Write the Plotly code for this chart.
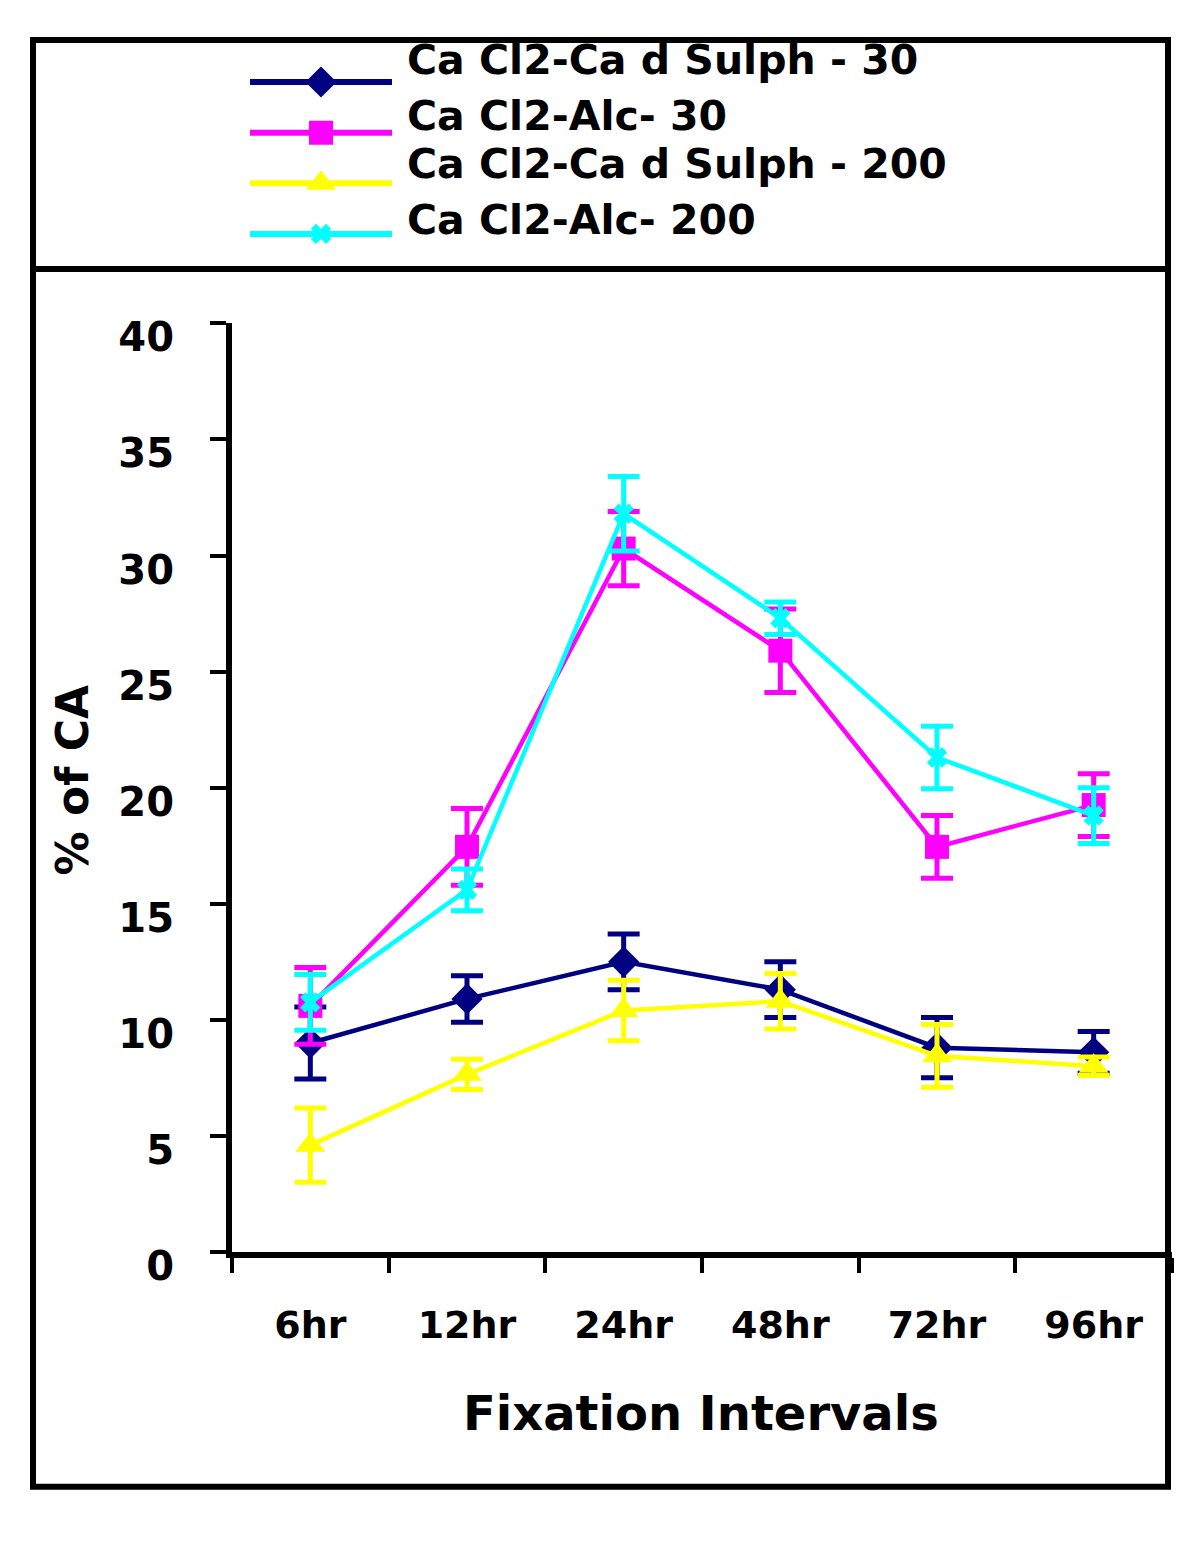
import plotly.graph_objects as go

categories = ["6hr", "12hr", "24hr", "48hr", "72hr", "96hr"]
y_ticks = [0, 5, 10, 15, 20, 25, 30, 35, 40]

series_names = ["Ca Cl2-Ca d Sulph - 30", "Ca Cl2-Alc- 30", "Ca Cl2-Ca d Sulph - 200", "Ca Cl2-Alc- 200"]
sulph_30 = [9.0, 10.9, 12.5, 11.3, 8.8, 8.6]
sulph_30_err = [1.55, 1.0, 1.2, 1.2, 1.3, 0.9]
alc_30 = [10.6, 17.45, 30.3, 25.9, 17.45, 19.25]
alc_30_err = [1.65, 1.65, 1.6, 1.8, 1.35, 1.35]
sulph_200 = [4.6, 7.65, 10.4, 10.8, 8.45, 8.0]
sulph_200_err = [1.6, 0.65, 1.3, 1.2, 1.35, 0.4]
alc_200 = [10.75, 15.6, 31.8, 27.3, 21.3, 18.8]
alc_200_err = [1.2, 0.9, 1.6, 0.7, 1.35, 1.2]

values = [sulph_30, alc_30, sulph_200, alc_200]
errors = [sulph_30_err, alc_30_err, sulph_200_err, alc_200_err]
colors = ["#000080", "#FF00FF", "#FFFF00", "#00FFFF"]
symbols = ["diamond", "square", "triangle-up", "x"]
sizes = [24, 24, 26, 18]
legend_text_rows = [53, 110, 160, 217]   # vertical centres of the legend labels (page px)

W = 1199
H = 1549

def px(x):
    return x / W
def py(y):
    return (H - y) / H

FONT = "DejaVu Sans"
fig = go.Figure()

for name, v, e, c, s, sz in zip(series_names, values, errors, colors, symbols, sizes):
    fig.add_trace(go.Scatter(
        x=categories, y=v, mode="lines+markers", name=name,
        line=dict(color=c, width=4.5),
        marker=dict(color=c, symbol=s, size=sz, opacity=1, line=dict(width=0, color=c)),
        error_y=dict(type="data", array=e, visible=True, color=c, thickness=5, width=16),
        xaxis="x", yaxis="y", showlegend=False, cliponaxis=False,
    ))

# legend samples (drawn on a hidden helper axis)
for i, (name, c, s, sz) in enumerate(zip(series_names, colors, symbols, sizes)):
    fig.add_trace(go.Scatter(
        x=[0, 1], y=[i, i], mode="lines",
        line=dict(color=c, width=6),
        xaxis="x2", yaxis="y2", showlegend=False, hoverinfo="skip",
    ))
    fig.add_trace(go.Scatter(
        x=[0.5], y=[i], mode="markers",
        marker=dict(color=c, symbol=s, size=sz, opacity=1, line=dict(width=0)),
        xaxis="x2", yaxis="y2", showlegend=False, hoverinfo="skip",
    ))
    fig.add_annotation(
        x=px(405), xref="paper", y=py(legend_text_rows[i]), yref="paper", text=name,
        showarrow=False, xanchor="left", yanchor="middle",
        font=dict(family=FONT, size=41, color="black", weight="bold"),
    )

fig.update_layout(
    width=W, height=H,
    margin=dict(l=0, r=0, t=0, b=0),
    paper_bgcolor="white", plot_bgcolor="white",
    showlegend=False,
    xaxis=dict(
        domain=[px(232), px(1172)], type="category", range=[-0.5, 5.5],
        tickson="boundaries", ticks="outside", ticklen=15, tickwidth=4, tickcolor="black",
        showline=True, linecolor="black", linewidth=6, showgrid=False, zeroline=False,
        tickfont=dict(family=FONT, size=38, color="black", weight="bold"),
        ticklabelstandoff=34, anchor="y",
    ),
    yaxis=dict(
        domain=[py(1281), py(324)], range=[0, 40], tickvals=y_ticks,
        ticks="outside", ticklen=16, tickwidth=4, tickcolor="black",
        showline=True, linecolor="black", linewidth=6, showgrid=False, zeroline=False,
        tickfont=dict(family=FONT, size=40, color="black", weight="bold"),
        ticklabelstandoff=28, ticklabelshift=14, anchor="x",
    ),
    xaxis2=dict(domain=[px(250), px(392)], range=[0, 1], visible=False, anchor="y2"),
    yaxis2=dict(domain=[py(249), py(58)], range=[3.33, -0.33], visible=False, anchor="x2"),
)

# outer frame and legend divider
fig.add_shape(type="rect", xref="paper", yref="paper",
              x0=px(33), x1=px(1168), y0=py(1523), y1=py(32),
              line=dict(color="black", width=6), fillcolor="rgba(0,0,0,0)", layer="below")
fig.add_shape(type="line", xref="paper", yref="paper",
              x0=px(33), x1=px(1168), y0=py(268), y1=py(268),
              line=dict(color="black", width=6))

fig.add_annotation(x=px(72), y=py(795), xref="paper", yref="paper", text="% of CA",
                   textangle=-90, showarrow=False, xanchor="center", yanchor="middle",
                   font=dict(family=FONT, size=44, color="black", weight="bold"))
fig.add_annotation(x=px(701), y=py(1447), xref="paper", yref="paper", text="Fixation Intervals",
                   showarrow=False, xanchor="center", yanchor="middle",
                   font=dict(family=FONT, size=48, color="black", weight="bold"))

fig.write_html("out.html", config={"displayModeBar": False},
               post_script="document.body.style.margin='0';")
